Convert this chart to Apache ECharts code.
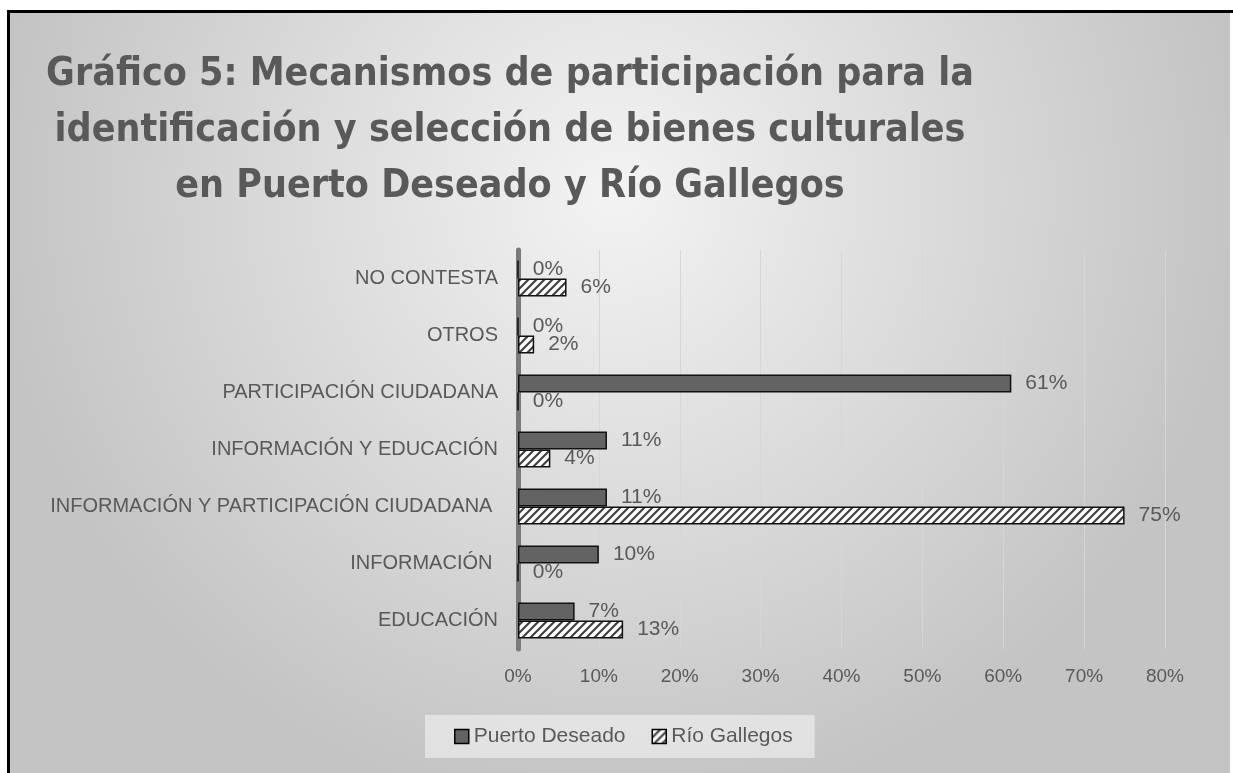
<!DOCTYPE html>
<html>
<head>
<meta charset="utf-8">
<script src="https://cdn.jsdelivr.net/npm/echarts@6/dist/echarts.min.js"></script>
<style>
  html, body { margin: 0; padding: 0; background: #fff; }
  #main { width: 1233px; height: 773px; }
</style>
</head>
<body>
<div id="main"></div>
<script>
// datos del gráfico
var categorias = ['EDUCACIÓN', 'INFORMACIÓN ', 'INFORMACIÓN Y PARTICIPACIÓN CIUDADANA ', 'INFORMACIÓN Y EDUCACIÓN', 'PARTICIPACIÓN CIUDADANA', 'OTROS', 'NO CONTESTA'];
var puertoDeseado = [7, 10, 11, 11, 61, 0, 0];
var rioGallegos = [13, 0, 75, 4, 0, 2, 6];
var ticksX = [0, 10, 20, 30, 40, 50, 60, 70, 80];

// rayado para Río Gallegos
function rayado() {
  var c = document.createElement('canvas');
  c.width = 8; c.height = 8;
  var ctx = c.getContext('2d');
  ctx.fillStyle = '#ffffff';
  ctx.fillRect(0, 0, 8, 8);
  ctx.strokeStyle = '#404040';
  ctx.lineWidth = 2.2;
  ctx.beginPath();
  ctx.moveTo(-2, 10); ctx.lineTo(10, -2);
  ctx.moveTo(-2, 2); ctx.lineTo(2, -2);
  ctx.moveTo(6, 10); ctx.lineTo(10, 6);
  ctx.stroke();
  return { image: c, repeat: 'repeat' };
}

var gris = '#595959';
var fuente = "'Liberation Sans', Arial, sans-serif";
var etiqueta = { show: true, position: 'right', formatter: '{c}%', distance: 14, fontFamily: fuente, fontSize: 21, color: gris };
var chart = echarts.init(document.getElementById('main'));

chart.setOption({
  backgroundColor: {
    type: 'radial', x: 0.5, y: 0.25, r: 0.8,
    colorStops: [{ offset: 0, color: '#f3f3f3' }, { offset: 1, color: '#c4c4c4' }]
  },
  title: {
    text: 'Gráfico 5: Mecanismos de participación para la\nidentificación y selección de bienes culturales\nen Puerto Deseado y Río Gallegos',
    left: 505,
    textAlign: 'center',
    top: 42,
    textStyle: {
      fontFamily: "'DejaVu Sans Condensed', sans-serif",
      fontWeight: 'bold',
      fontSize: 39,
      lineHeight: 56,
      color: gris
    }
  },
  legend: {
    data: ['Puerto Deseado', 'Río Gallegos'],
    icon: 'rect',
    left: 425,
    top: 715,
    padding: [11, 22, 11, 29],
    itemWidth: 14,
    itemHeight: 14,
    itemGap: 26,
    backgroundColor: 'rgba(236,236,236,0.7)',
    textStyle: { fontFamily: fuente, fontSize: 21, color: gris },
    itemStyle: { borderColor: '#000', borderWidth: 1.5 }
  },
  graphic: [
    { type: 'rect', shape: { x: 0, y: 0, width: 1233, height: 10 }, style: { fill: '#fff' }, z: 100 },
    { type: 'rect', shape: { x: 0, y: 0, width: 7, height: 773 }, style: { fill: '#fff' }, z: 100 },
    { type: 'rect', shape: { x: 1230, y: 10, width: 3, height: 763 }, style: { fill: '#fff' }, z: 100 },
    { type: 'rect', shape: { x: 7, y: 10, width: 1226, height: 3 }, style: { fill: '#000' }, z: 101 },
    { type: 'rect', shape: { x: 7, y: 10, width: 3, height: 763 }, style: { fill: '#000' }, z: 101 }
  ],
  grid: { left: 518, right: 68, top: 250, bottom: 124 },
  xAxis: {
    type: 'value',
    min: ticksX[0],
    max: ticksX[ticksX.length - 1],
    interval: 10,
    axisLine: { show: false },
    axisTick: { show: false },
    axisLabel: { formatter: '{value}%', fontFamily: fuente, fontSize: 19, color: gris, margin: 18 },
    splitLine: { lineStyle: { color: '#d6d6d6', width: 1 } }
  },
  yAxis: {
    type: 'category',
    data: categorias,
    axisLine: { lineStyle: { color: '#7a7a7a', width: 5 } },
    axisTick: { show: false },
    axisLabel: { fontFamily: fuente, fontSize: 20, color: gris, margin: 20 }
  },
  series: [
    {
      name: 'Puerto Deseado',
      type: 'bar',
      data: puertoDeseado,
      barWidth: 18,
      barGap: '0%',
      itemStyle: { color: '#636363', borderColor: '#111', borderWidth: 1.5 },
      label: etiqueta
    },
    {
      name: 'Río Gallegos',
      type: 'bar',
      data: rioGallegos,
      barWidth: 18,
      barGap: '0%',
      itemStyle: { color: rayado(), borderColor: '#111', borderWidth: 1.5 },
      label: etiqueta
    }
  ]
});
</script>
</body>
</html>
